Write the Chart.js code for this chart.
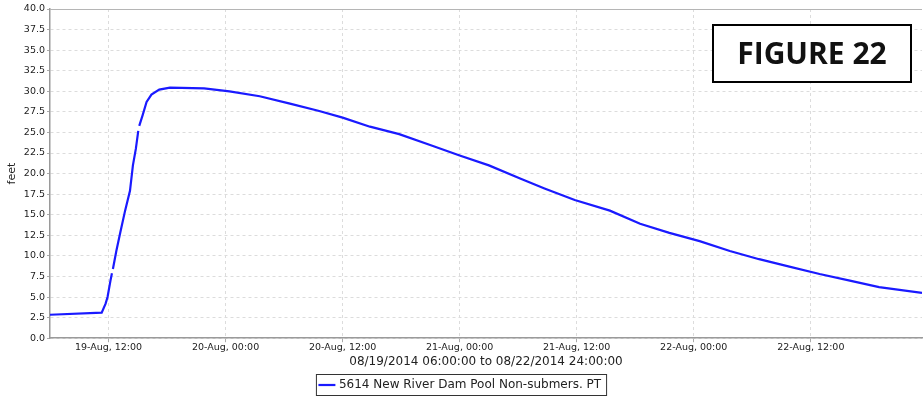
<!DOCTYPE html>
<html>
<head>
<meta charset="utf-8">
<script src="https://cdn.jsdelivr.net/npm/chart.js@4.4.1/dist/chart.umd.min.js"></script>
<style>
  html, body { margin: 0; padding: 0; background: #fff; }
  #wrap { width: 923px; height: 402px; }
</style>
</head>
<body>
<div id="wrap"><canvas id="myChart" width="923" height="402"></canvas></div>
<script>
// hours since 08/19/2014 06:00
const hours = [0, 5.3, 5.7, 5.9, 6.2, 6.35, null, 6.45, 6.8, 7.2, 7.7, 8.2, 8.5, 8.8, 9.05, null, 9.15, 9.5, 9.9, 10.4, 11.2, 12.3,
    15.8, 18.4, 21.5, 24.6, 27.6, 30, 32.8, 35.8, 38.9, 42, 45, 48.2, 50.7, 53.8, 57.4, 60.5, 63.5,
    66.6, 69.7, 72.7, 75.8, 78.9, 82, 85, 89.4];
const feet = [2.85, 3.1, 4.2, 5.0, 7.0, 7.9, null, 8.4, 10.6, 12.8, 15.5, 17.9, 21.0, 23.0, 25.2, null, 25.8, 27.1, 28.7, 29.6, 30.2, 30.45,
    30.35, 30.0, 29.4, 28.5, 27.6, 26.8, 25.7, 24.8, 23.5, 22.2, 21.0, 19.4, 18.2, 16.8, 15.5, 13.9, 12.8,
    11.8, 10.6, 9.6, 8.7, 7.8, 7.0, 6.2, 5.5];
const xTickHours = [6, 18, 30, 42, 54, 66, 78];
const xTickLabels = ['19-Aug, 12:00', '20-Aug, 00:00', '20-Aug, 12:00', '21-Aug, 00:00',
    '21-Aug, 12:00', '22-Aug, 00:00', '22-Aug, 12:00'];
const seriesName = '5614 New River Dam Pool Non-submers. PT';

const points = [];
for (let i = 0; i < hours.length; i++) {
    if (hours[i] === null) {
        points.push({x: hours[i - 1] + 0.05, y: null});
    } else {
        points.push({x: hours[i], y: feet[i]});
    }
}

const extras = {
    id: 'extras',
    afterDraw(chart) {
        const ctx = chart.ctx;
        const a = chart.chartArea;
        ctx.save();
        // top border of plot
        ctx.strokeStyle = '#b5b5b5';
        ctx.lineWidth = 1;
        ctx.beginPath();
        ctx.moveTo(a.left, a.top + 0.5);
        ctx.lineTo(a.right, a.top + 0.5);
        ctx.stroke();
        // legend frame
        const boxes = chart.legend.legendHitBoxes;
        if (boxes && boxes.length) {
            const b = boxes[0];
            ctx.strokeStyle = '#333';
            ctx.strokeRect(b.left - 4.5, b.top - 4.5, b.width + 10, b.height + 9);
        }
        // figure label
        ctx.fillStyle = '#fff';
        ctx.fillRect(713, 25, 198, 57);
        ctx.strokeStyle = '#000';
        ctx.lineWidth = 2;
        ctx.strokeRect(713, 25, 198, 57);
        ctx.fillStyle = '#111';
        ctx.font = 'bold 30px "Open Sans", sans-serif';
        ctx.textAlign = 'center';
        ctx.textBaseline = 'middle';
        ctx.fillText('FIGURE 22', 812, 55);
        ctx.restore();
    }
};

const config = {
    type: 'line',
    data: {
        datasets: [{
            label: seriesName,
            data: points,
            borderColor: '#1a1aff',
            backgroundColor: '#1a1aff',
            borderWidth: 2.2,
            pointRadius: 0,
            tension: 0,
            spanGaps: false,
        }]
    },
    options: {
        responsive: false,
        animation: false,
        layout: { padding: { top: 9, right: 1, bottom: 1, left: 0 } },
        plugins: {
            legend: {
                position: 'bottom',
                labels: {
                    usePointStyle: true,
                    pointStyle: 'line',
                    boxWidth: 14,
                    color: '#222',
                    font: { family: 'DejaVu Sans', size: 12 },
                    padding: 5,
                }
            },
            tooltip: { enabled: false }
        },
        scales: {
            x: {
                type: 'linear',
                min: 0,
                max: 89.4,
                afterBuildTicks: function (axis) {
                    axis.ticks = xTickHours.map(v => ({value: v}));
                },
                ticks: {
                    autoSkip: false,
                    maxRotation: 0,
                    color: '#222',
                    font: { family: 'DejaVu Sans', size: 9.5 },
                    padding: 0,
                    callback: function (v) {
                        const i = xTickHours.indexOf(v);
                        return i >= 0 ? xTickLabels[i] : '';
                    }
                },
                grid: { color: '#dcdcdc', tickLength: 4, tickColor: '#aaa' },
                border: { color: '#9a9a9a', width: 1.5, dash: [3, 3] },
                title: {
                    display: true,
                    text: '08/19/2014 06:00:00 to 08/22/2014 24:00:00',
                    color: '#222',
                    font: { family: 'DejaVu Sans', size: 12 },
                    padding: { top: 1, bottom: 5 }
                }
            },
            y: {
                min: 0,
                max: 40,
                ticks: {
                    stepSize: 2.5,
                    color: '#222',
                    font: { family: 'DejaVu Sans', size: 9.5 },
                    padding: 2,
                    callback: v => v.toFixed(1)
                },
                grid: { color: '#dcdcdc', tickLength: 3, tickColor: '#aaa' },
                border: { color: '#9a9a9a', width: 1.5, dash: [3, 3] },
                title: {
                    display: true,
                    text: 'feet',
                    color: '#222',
                    font: { family: 'DejaVu Sans', size: 11 },
                    padding: { top: 6, bottom: 0 }
                },
                afterFit: function (axis) { axis.width = 50; }
            }
        }
    },
    plugins: [extras]
};

const myChart = new Chart(document.getElementById('myChart'), config);
</script>
</body>
</html>
